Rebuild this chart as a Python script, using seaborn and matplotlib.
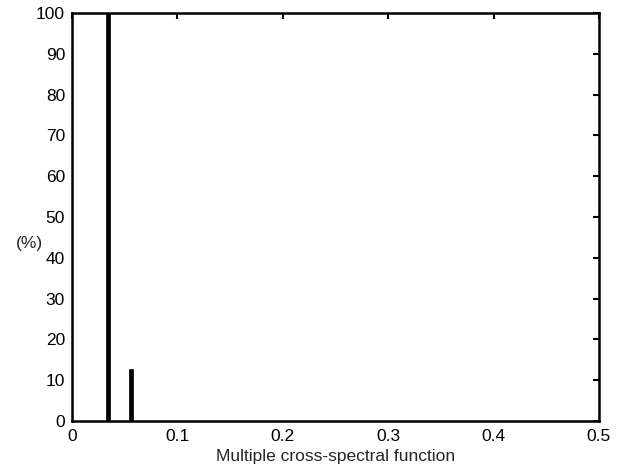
import matplotlib
matplotlib.use("Agg")
import matplotlib.pyplot as plt
import seaborn as sns
import pandas as pd

freq = [0.0342, 0.0560]
percent = [100.0, 12.8]
x_ticks = [0, 0.1, 0.2, 0.3, 0.4, 0.5]
x_tick_labels = ["0", "0.1", "0.2", "0.3", "0.4", "0.5"]
y_ticks = [0, 10, 20, 30, 40, 50, 60, 70, 80, 90, 100]
y_tick_labels = [str(v) for v in y_ticks]

sns.set_style("white")
plt.rcParams['font.family'] = ['Liberation Sans', 'DejaVu Sans']

fig = plt.figure(figsize=(6.17, 4.72), dpi=100)
ax = fig.add_axes([0.1167, 0.108, 0.8541, 0.8645])

df = pd.DataFrame({"freq": freq, "percent": percent})
sns.barplot(data=df, x="freq", y="percent", native_scale=True, width=0.17,
            color="black", edgecolor="black", linewidth=0.5, ax=ax)

ax.set_xlim(0, 0.5)
ax.set_ylim(0, 100)
ax.set_xticks(x_ticks)
ax.set_xticklabels(x_tick_labels)
ax.set_yticks(y_ticks)
ax.set_yticklabels(y_tick_labels)
ax.tick_params(direction="in", length=4, width=1.5, top=True, right=True,
               labelsize=12.5, colors="black")
ax.tick_params(axis="x", pad=6)
ax.tick_params(axis="y", pad=5)
for s in ax.spines.values():
    s.set_visible(True)
    s.set_linewidth(1.8)
    s.set_color("black")
ax.set_xlabel("Multiple cross-spectral function", fontsize=12.5, labelpad=3)
ax.set_ylabel("(%)", fontsize=12.5, rotation=0, va="center")
ax.yaxis.set_label_coords(-0.08, 0.436)

fig.savefig("out.png", dpi=100)
